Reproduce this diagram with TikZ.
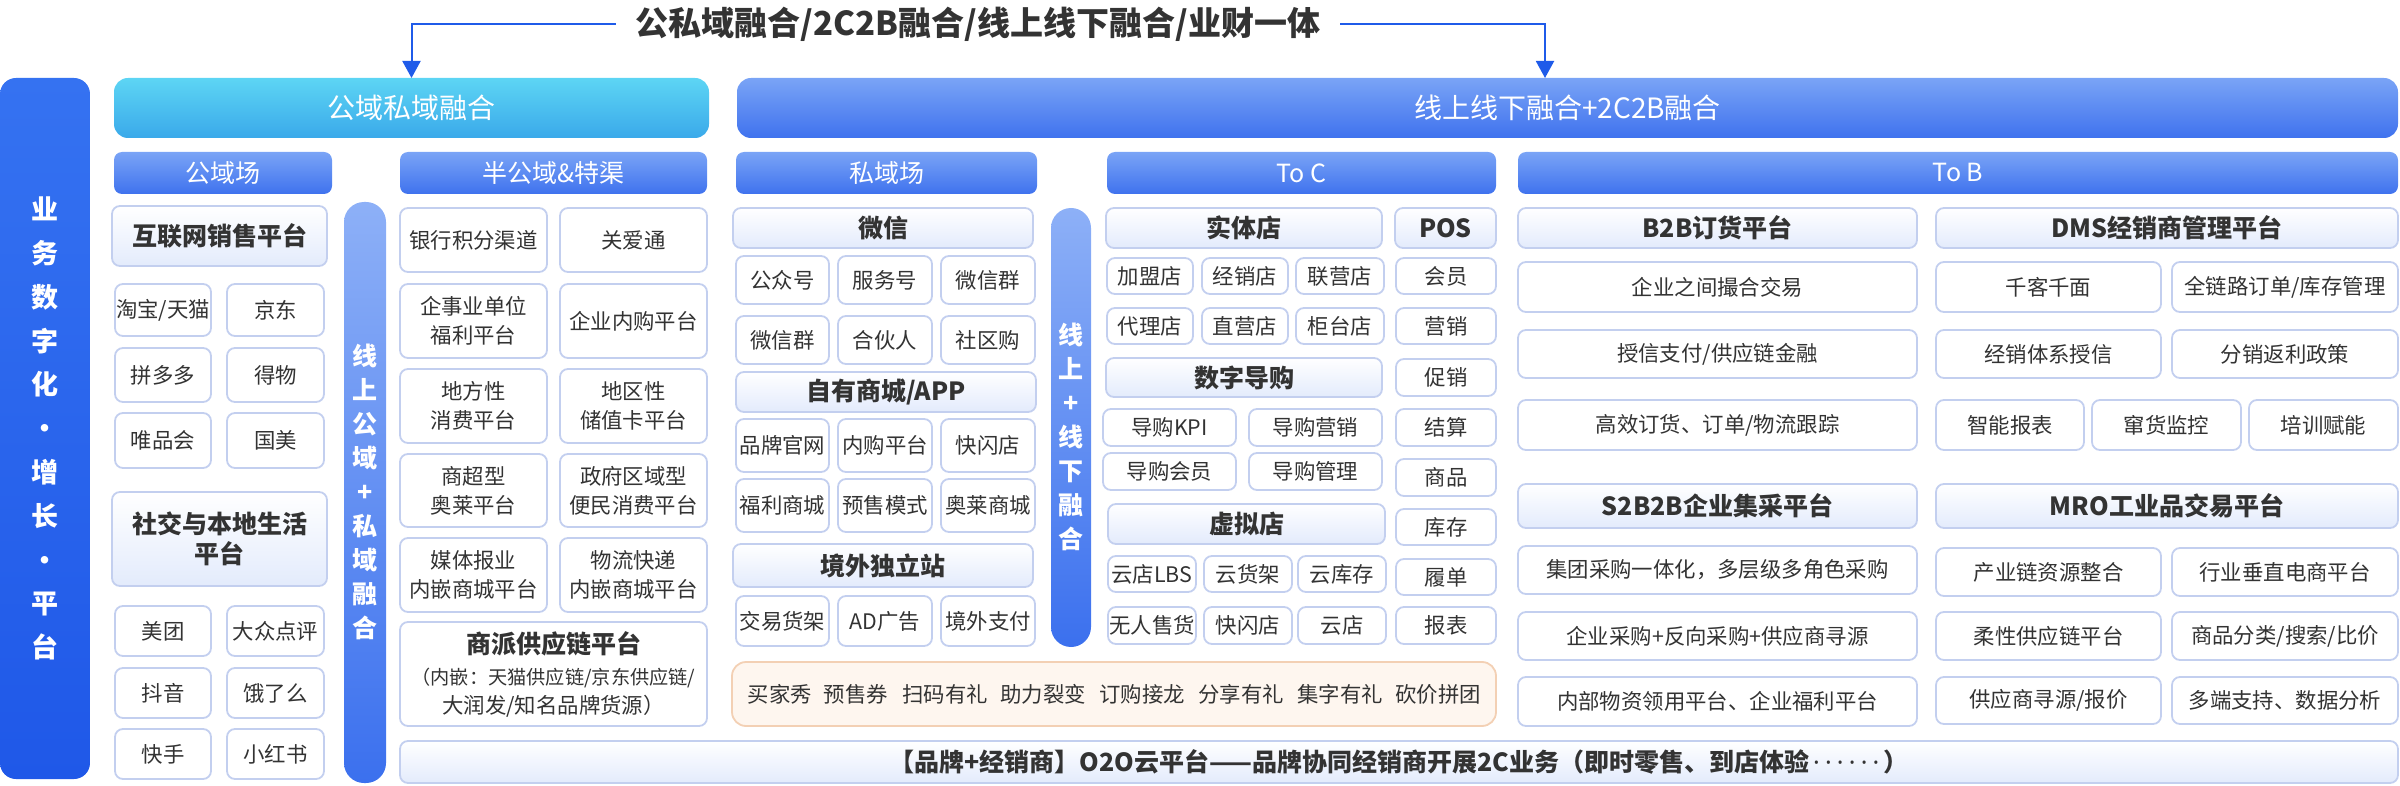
\documentclass[tikz,border=0pt]{standalone}
\usepackage{fontspec}
\setmainfont{Noto Sans CJK SC}
\newfontfamily\dotfont{Noto Sans}
\usetikzlibrary{arrows.meta}

\definecolor{txt}{HTML}{333333}
\definecolor{bd}{HTML}{C3CFEF}
\definecolor{subbot}{HTML}{E3EBFC}
\definecolor{cyantop}{HTML}{5DD5F4}
\definecolor{cyanbot}{HTML}{3AA9EA}
\definecolor{bluetop}{HTML}{7AA4F6}
\definecolor{bluebot}{HTML}{3F72EE}
\definecolor{deeptop}{HTML}{3572F1}
\definecolor{deepbot}{HTML}{1F58E8}
\definecolor{vtop}{HTML}{8DB0F7}
\definecolor{vbot}{HTML}{3B70EE}
\definecolor{mkfill}{HTML}{FEF6EF}
\definecolor{mkline}{HTML}{F3D0B4}
\definecolor{arrowc}{HTML}{1F5BE9}

% box from corner (x1,y1) to (x2,y2), in pixels of the picture
\newcommand{\blk}[7]{%
  \node[#6, minimum width={(#4-#2)*0.5pt}, minimum height={(#5-#3)*0.5pt}]
    (#1) at ({(#2+#4)/2},{(#3+#5)/2}) {#7};}
\newcommand{\sixdots}{{\dotfont\kern2pt·\kern2.6pt·\kern2.6pt·\kern2.6pt·\kern2.6pt·\kern2.6pt·\kern2pt}}

\tikzset{
  every node/.style={inner sep=0.5pt, outer sep=0pt},
  itm/.style={draw=bd, fill=white, line width=0.9pt, rounded corners=4pt,
    text=txt, align=center, font=\fontsize{10.7}{14.5}\selectfont},
  subbox/.style={itm, top color=white, bottom color=subbot,
    font=\fontsize{12.5}{15}\selectfont\bfseries},
  hdr/.style={rounded corners=4pt, top color=bluetop, bottom color=bluebot,
    text=white, font=\fontsize{12.5}{15}\selectfont},
  barblue/.style={rounded corners=7pt, top color=bluetop, bottom color=bluebot,
    text=white, font=\fontsize{14}{16}\selectfont},
  barcyan/.style={barblue, top color=cyantop, bottom color=cyanbot},
  sidebar/.style={rounded corners=8pt, top color=deeptop, bottom color=deepbot,
    text=white, align=center, font=\fontsize{13.5}{21.9}\selectfont\bfseries},
  vbar/.style={rounded corners=10pt, top color=vtop, bottom color=vbot},
  vtxt/.style={text=white, align=center, font=\fontsize{12.5}{17}\selectfont\bfseries},
  mkbar/.style={draw=mkline, fill=mkfill, line width=0.9pt, rounded corners=7pt},
  mktxt/.style={text=txt, font=\fontsize{10.7}{13}\selectfont},
  botbar/.style={itm, top color=white, bottom color=subbot,
    font=\fontsize{12.5}{15}\selectfont\bfseries},
  ttl/.style={text=txt, inner xsep=10pt, font=\fontsize{16.5}{19}\selectfont\bfseries},
  conn/.style={draw=arrowc, line width=1pt, -{Triangle[width=9pt,length=8.5pt]}}
}

\begin{document}
\begin{tikzpicture}[x=0.5pt, y=-0.5pt]
\useasboundingbox (0,0) rectangle (2400,786);

% top line
\node[ttl] (ttl) at (978,24) {公私域融合/2C2B融合/线上线下融合/业财一体};
\blk{pp}{114}{78}{709}{138}{barcyan}{公域私域融合}
\blk{ol}{737}{78}{2398}{138}{barblue}{线上线下融合+2C2B融合}
\coordinate (olin) at (1545,78);
\draw[conn] (ttl.west) -| (pp.north);
\draw[conn] (ttl.east) -| (olin);

% side bar
\blk{lb}{0}{78}{90}{779}{sidebar}{业\\务\\数\\字\\化\\·\\增\\长\\·\\平\\台}

% headers
\blk{h1}{114}{152}{332}{194}{hdr}{公域场}
\blk{h2}{400}{152}{707}{194}{hdr}{半公域\&特渠}
\blk{h3}{736}{152}{1037}{194}{hdr}{私域场}
\blk{h4}{1107}{152}{1496}{194}{hdr}{To C}
\blk{h5}{1518}{152}{2398}{194}{hdr}{To B}

% public domain
\blk{s1}{112}{206}{327}{266}{subbox}{互联网销售平台}
\blk{a1}{115}{284}{211}{336}{itm}{淘宝/天猫}
\blk{a2}{227}{284}{324}{336}{itm}{京东}
\blk{a3}{115}{348}{211}{402}{itm}{拼多多}
\blk{a4}{227}{348}{324}{402}{itm}{得物}
\blk{a5}{115}{413}{211}{468}{itm}{唯品会}
\blk{a6}{227}{413}{324}{468}{itm}{国美}
\blk{s2}{112}{492}{327}{586}{subbox}{社交与本地生活\\平台}
\blk{a7}{115}{606}{211}{656}{itm}{美团}
\blk{a8}{227}{606}{324}{656}{itm}{大众点评}
\blk{a9}{115}{668}{211}{718}{itm}{抖音}
\blk{a10}{227}{668}{324}{718}{itm}{饿了么}
\blk{a11}{115}{729}{211}{779}{itm}{快手}
\blk{a12}{227}{729}{324}{779}{itm}{小红书}

\blk{v1}{344}{202}{386}{783}{vbar}{}
\node[vtxt] (v1t) at (365,492) {线\\上\\公\\域\\+\\私\\域\\融\\合};

% semi public
\blk{b1}{400}{208}{547}{272}{itm}{银行积分渠道}
\blk{b2}{560}{208}{707}{272}{itm}{关爱通}
\blk{b3}{400}{284}{547}{358}{itm}{企事业单位\\福利平台}
\blk{b4}{560}{284}{707}{358}{itm}{企业内购平台}
\blk{b5}{400}{369}{547}{443}{itm}{地方性\\消费平台}
\blk{b6}{560}{369}{707}{443}{itm}{地区性\\储值卡平台}
\blk{b7}{400}{454}{547}{527}{itm}{商超型\\奥莱平台}
\blk{b8}{560}{454}{707}{527}{itm}{政府区域型\\便民消费平台}
\blk{b9}{400}{538}{547}{612}{itm}{媒体报业\\内嵌商城平台}
\blk{b10}{560}{538}{707}{612}{itm}{物流快递\\内嵌商城平台}
\blk{b11}{400}{622}{707}{726}{itm}{{\fontsize{12.5}{15}\selectfont\bfseries 商派供应链平台}\\[1pt]
  \fontsize{9.6}{13}\selectfont （内嵌：天猫供应链/京东供应链/\\大润发/知名品牌货源）}

% private domain
\blk{s3}{733}{208}{1033}{248}{subbox}{微信}
\blk{c1}{736}{256}{829}{304}{itm}{公众号}
\blk{c2}{838}{256}{932}{304}{itm}{服务号}
\blk{c3}{941}{256}{1035}{304}{itm}{微信群}
\blk{c4}{736}{316}{829}{364}{itm}{微信群}
\blk{c5}{838}{316}{932}{364}{itm}{合伙人}
\blk{c6}{941}{316}{1035}{364}{itm}{社区购}
\blk{s4}{736}{372}{1036}{412}{subbox}{自有商城/APP}
\blk{c7}{736}{419}{829}{472}{itm}{品牌官网}
\blk{c8}{838}{419}{932}{472}{itm}{内购平台}
\blk{c9}{941}{419}{1035}{472}{itm}{快闪店}
\blk{c10}{736}{479}{829}{532}{itm}{福利商城}
\blk{c11}{838}{479}{932}{532}{itm}{预售模式}
\blk{c12}{941}{479}{1035}{532}{itm}{奥莱商城}
\blk{s5}{733}{544}{1033}{587}{subbox}{境外独立站}
\blk{c13}{736}{596}{829}{646}{itm}{交易货架}
\blk{c14}{838}{596}{932}{646}{itm}{AD广告}
\blk{c15}{941}{596}{1035}{646}{itm}{境外支付}

\blk{v2}{1051}{208}{1091}{647}{vbar}{}
\node[vtxt] (v2t) at (1071,437) {线\\上\\+\\线\\下\\融\\合};

% to C
\blk{s6}{1106}{208}{1382}{248}{subbox}{实体店}
\blk{s7}{1395}{208}{1496}{248}{subbox}{POS}
\blk{d1}{1107}{258}{1193}{294}{itm}{加盟店}
\blk{d2}{1202}{258}{1288}{294}{itm}{经销店}
\blk{d3}{1296}{258}{1384}{294}{itm}{联营店}
\blk{d4}{1107}{308}{1193}{344}{itm}{代理店}
\blk{d5}{1202}{308}{1288}{344}{itm}{直营店}
\blk{d6}{1296}{308}{1384}{344}{itm}{柜台店}
\blk{s8}{1106}{358}{1382}{397}{subbox}{数字导购}
\blk{d7}{1103}{409}{1236}{446}{itm}{导购KPI}
\blk{d8}{1249}{409}{1382}{446}{itm}{导购营销}
\blk{d9}{1103}{453}{1236}{490}{itm}{导购会员}
\blk{d10}{1249}{453}{1382}{490}{itm}{导购管理}
\blk{s9}{1108}{504}{1385}{544}{subbox}{虚拟店}
\blk{d11}{1108}{556}{1196}{592}{itm}{云店LBS}
\blk{d12}{1204}{556}{1292}{592}{itm}{云货架}
\blk{d13}{1298}{556}{1386}{592}{itm}{云库存}
\blk{d14}{1108}{607}{1196}{644}{itm}{无人售货}
\blk{d15}{1204}{607}{1292}{644}{itm}{快闪店}
\blk{d16}{1298}{607}{1386}{644}{itm}{云店}
\blk{e1}{1396}{258}{1496}{294}{itm}{会员}
\blk{e2}{1396}{308}{1496}{344}{itm}{营销}
\blk{e3}{1396}{359}{1496}{396}{itm}{促销}
\blk{e4}{1396}{409}{1496}{446}{itm}{结算}
\blk{e5}{1396}{459}{1496}{496}{itm}{商品}
\blk{e6}{1396}{509}{1496}{545}{itm}{库存}
\blk{e7}{1396}{559}{1496}{595}{itm}{履单}
\blk{e8}{1396}{607}{1496}{644}{itm}{报表}

% marketing tools
\blk{mk}{732}{662}{1496}{726}{mkbar}{}
\foreach \x/\t [count=\i] in {780/买家秀, 856/预售券, 945/扫码有礼, 1043/助力裂变,
    1142/订购接龙, 1241/分享有礼, 1340/集字有礼, 1438/砍价拼团}
  \node[mktxt] (mk\i) at (\x,694) {\t};

% to B
\blk{s10}{1518}{208}{1917}{248}{subbox}{B2B订货平台}
\blk{s11}{1936}{208}{2398}{248}{subbox}{DMS经销商管理平台}
\blk{f1}{1518}{262}{1917}{312}{itm}{企业之间撮合交易}
\blk{g1}{1936}{262}{2161}{312}{itm}{千客千面}
\blk{g2}{2172}{262}{2398}{312}{itm}{全链路订单/库存管理}
\blk{f2}{1518}{330}{1917}{378}{itm}{授信支付/供应链金融}
\blk{g3}{1936}{330}{2161}{378}{itm}{经销体系授信}
\blk{g4}{2172}{330}{2398}{378}{itm}{分销返利政策}
\blk{f3}{1518}{400}{1917}{450}{itm}{高效订货、订单/物流跟踪}
\blk{g5}{1936}{400}{2084}{450}{itm}{智能报表}
\blk{g6}{2092}{400}{2241}{450}{itm}{窜货监控}
\blk{g7}{2249}{400}{2398}{450}{itm}{培训赋能}
\blk{s12}{1518}{484}{1917}{528}{subbox}{S2B2B企业集采平台}
\blk{s13}{1936}{484}{2398}{528}{subbox}{MRO工业品交易平台}
\blk{f4}{1518}{546}{1917}{594}{itm}{集团采购一体化，多层级多角色采购}
\blk{g8}{1936}{548}{2161}{596}{itm}{产业链资源整合}
\blk{g9}{2172}{548}{2398}{596}{itm}{行业垂直电商平台}
\blk{f5}{1518}{612}{1917}{660}{itm}{企业采购+反向采购+供应商寻源}
\blk{g10}{1936}{612}{2161}{660}{itm}{柔性供应链平台}
\blk{g11}{2172}{612}{2398}{660}{itm}{商品分类/搜索/比价}
\blk{f6}{1518}{677}{1917}{726}{itm}{内部物资领用平台、企业福利平台}
\blk{g12}{1936}{677}{2161}{724}{itm}{供应商寻源/报价}
\blk{g13}{2172}{677}{2398}{724}{itm}{多端支持、数据分析}

% bottom
\blk{bt}{400}{741}{2398}{783}{botbar}{【品牌+经销商】O2O云平台——品牌协同经销商开展2C业务（即时零售、到店体验\sixdots）}
\end{tikzpicture}
\end{document}
